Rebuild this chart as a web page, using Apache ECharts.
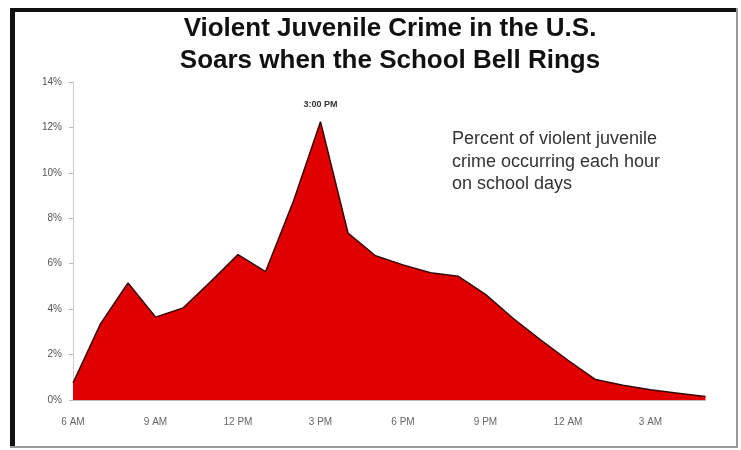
<!DOCTYPE html>
<html>
<head>
<meta charset="utf-8">
<script src="https://cdn.jsdelivr.net/npm/echarts@6/dist/echarts.min.js"></script>
<style>html,body{margin:0;padding:0;background:#fff;}#c{width:741px;height:450px;}</style>
</head>
<body>
<div id="c"></div>
<script>
const hours = ['6 AM','7 AM','8 AM','9 AM','10 AM','11 AM','12 PM','1 PM','2 PM','3 PM','4 PM','5 PM',
               '6 PM','7 PM','8 PM','9 PM','10 PM','11 PM','12 AM','1 AM','2 AM','3 AM','4 AM','5 AM'];
const percent = [0.75, 3.35, 5.15, 3.65, 4.05, 5.2, 6.4, 5.65, 8.7, 12.25, 7.35, 6.35,
                 5.95, 5.6, 5.45, 4.65, 3.6, 2.65, 1.75, 0.9, 0.65, 0.45, 0.3, 0.15];
const peakIndex = 9;
const peakLabel = '3:00 PM';
const titleLines = ['Violent Juvenile Crime in the U.S.', 'Soars when the School Bell Rings'];
const noteLines = ['Percent of violent juvenile', 'crime occurring each hour', 'on school days'];

const FONT = 'Liberation Sans, Arial, sans-serif';
const chart = echarts.init(document.getElementById('c'), null, {renderer: 'canvas'});

chart.setOption({
  backgroundColor: '#fff',
  animation: false,
  title: {
    text: titleLines.join('\n'),
    left: 385, top: 8, textAlign: 'center',
    textStyle: {fontSize: 26, fontWeight: 'bold', color: '#111', lineHeight: 32, fontFamily: FONT}
  },
  grid: {left: 73, right: 35.5, top: 82, height: 318, containLabel: false},
  xAxis: {
    type: 'category', data: hours, boundaryGap: false,
    axisLine: {show: true, lineStyle: {color: '#bbb', width: 1}},
    axisTick: {show: false},
    axisLabel: {interval: 2, fontSize: 10, color: '#666', margin: 17, fontFamily: FONT},
    splitLine: {show: false}
  },
  yAxis: {
    type: 'value', min: 0, max: 14, interval: 2,
    axisLine: {show: true, lineStyle: {color: '#ccc', width: 1}},
    axisTick: {show: true, length: 4, lineStyle: {color: '#bbb'}},
    axisLabel: {formatter: '{value}%', fontSize: 10, color: '#555', margin: 11, fontFamily: FONT},
    splitLine: {show: false}
  },
  series: [{
    type: 'line', symbol: 'circle', symbolSize: 1, showSymbol: true, smooth: false,
    itemStyle: {color: 'rgba(0,0,0,0)'},
    data: percent,
    label: {
      show: true, position: 'top', distance: 12,
      formatter: p => p.dataIndex === peakIndex ? peakLabel : '',
      fontSize: 9, fontWeight: 'bold', color: '#333', fontFamily: FONT
    },
    lineStyle: {color: '#3a0505', width: 1.5},
    areaStyle: {color: '#e00000', opacity: 1}
  }],
  graphic: [
    {type: 'rect', shape: {x: 10, y: 8, width: 728, height: 4}, style: {fill: '#111'}},
    {type: 'rect', shape: {x: 10, y: 8, width: 5, height: 440}, style: {fill: '#111'}},
    {type: 'rect', shape: {x: 736, y: 8, width: 2, height: 440}, style: {fill: '#999'}},
    {type: 'rect', shape: {x: 10, y: 446, width: 728, height: 2}, style: {fill: '#999'}},
    {type: 'text', left: 452, top: 128,
     style: {text: noteLines.join('\n'), fontSize: 18, lineHeight: 22.5, fill: '#333', fontFamily: FONT}}
  ]
});
</script>
</body>
</html>
